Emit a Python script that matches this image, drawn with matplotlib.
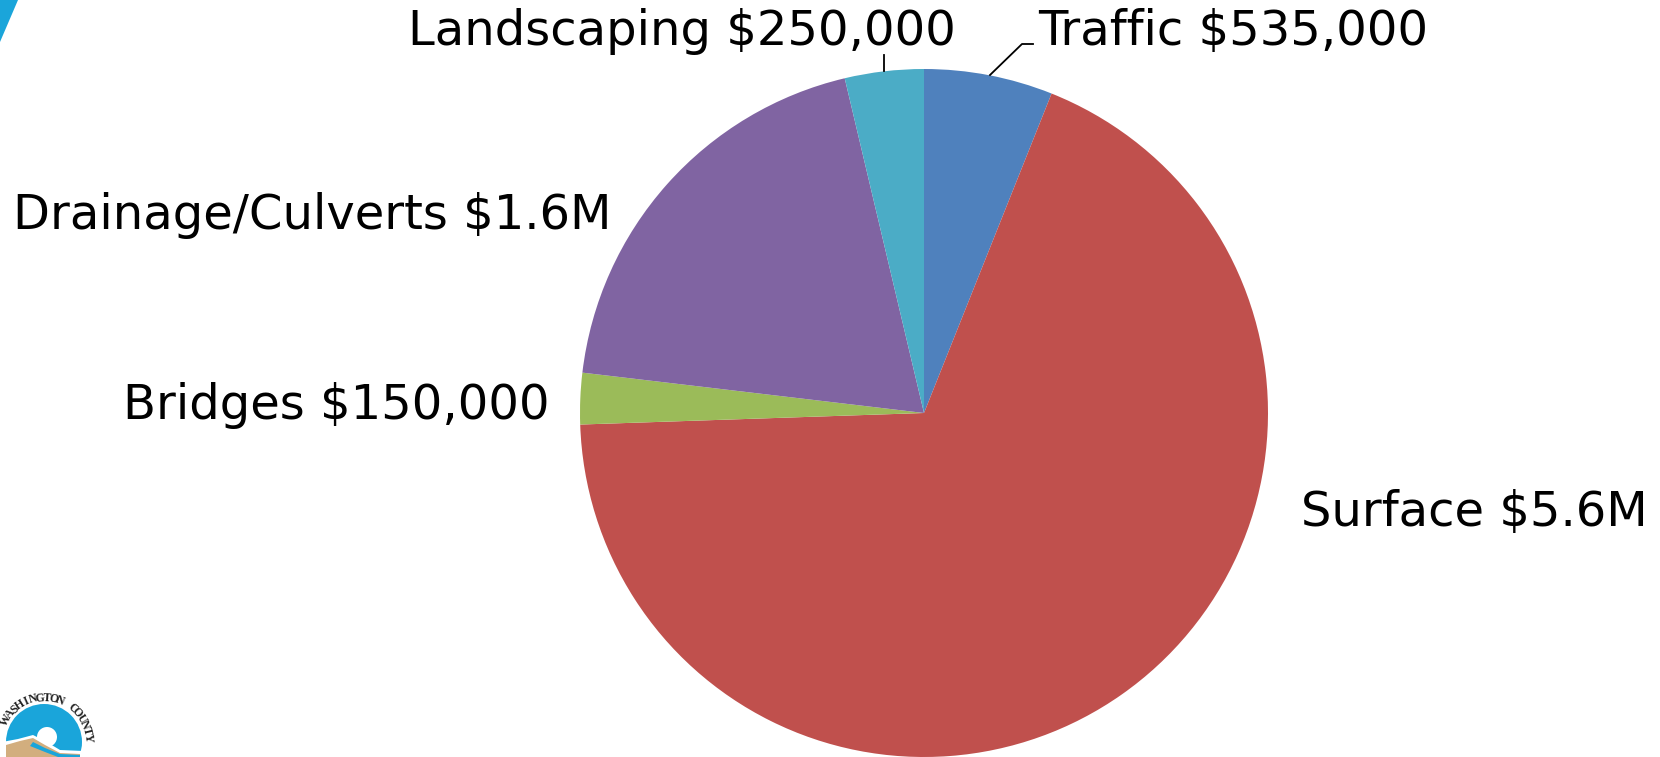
import matplotlib
matplotlib.use('Agg')
import matplotlib.pyplot as plt
from matplotlib.patches import Polygon, Circle
import numpy as np

W, H = 1660, 757

# slices (angles), labels as printed on it
categories = ['Traffic', 'Surface', 'Bridges', 'Drainage/Culverts', 'Landscaping']
slice_values = [495, 5600, 197, 1590, 303]
amounts = ['$535,000', '$5.6M', '$150,000', '$1.6M', '$250,000']
colors = ['#4F81BD', '#C0504D', '#9BBB59', '#8064A2', '#4BACC6']

# left edge and baseline of each label, in pixels from the top left
label_pos = [(1038, 45), (1301, 526), (123, 419), (13, 229), (408, 45)]

logo_text = 'WASHINGTON COUNTY'


def flip(y):
    return H - y


fig = plt.figure(figsize=(W / 100, H / 100), dpi=100, facecolor='white')
ax = fig.add_axes([0, 0, 1, 1])

ax.pie(slice_values, colors=colors, startangle=90, counterclock=False,
       center=(924, flip(413)), radius=344, frame=True,
       wedgeprops={'edgecolor': 'none', 'linewidth': 0})

ax.set_xlim(0, W)
ax.set_ylim(0, H)
ax.set_aspect('equal')
ax.axis('off')

for name, amount, (x, y) in zip(categories, amounts, label_pos):
    ax.text(x, flip(y), name + ' ' + amount, fontsize=34.6, color='black',
            family='DejaVu Sans', ha='left', va='baseline')

# leader lines
ax.plot([990, 1022, 1033], [flip(75), flip(44), flip(44)], color='black', lw=1.3)
ax.plot([884, 884], [flip(71), flip(55)], color='black', lw=1.3)

# corner of the slide decoration
ax.add_patch(Polygon([(0, flip(0)), (18, flip(0)), (0, flip(42))], color='#1AA5DA', lw=0))

# county logo
cx, cy = 44, flip(742)
ax.add_patch(Circle((cx, cy), 38, color='#1AA5DA', lw=0))
ax.add_patch(Circle((47, flip(737)), 10, color='white', lw=0))
ax.add_patch(Polygon([(2, flip(742)), (18, flip(739)), (33, flip(735)), (45, flip(741)),
                      (60, flip(750)), (84, flip(751)), (84, flip(757)), (2, flip(757))],
                     color='white', lw=0))
ax.add_patch(Polygon([(6, flip(745)), (20, flip(741)), (33, flip(738)), (45, flip(745)),
                      (60, flip(753)), (80, flip(754)), (80, flip(757)), (6, flip(757))],
                     color='#D2AE7E', lw=0))
ax.add_patch(Polygon([(33, flip(742)), (45, flip(748)), (60, flip(754)), (80, flip(755)),
                      (80, flip(757)), (58, flip(757)), (45, flip(752)), (30, flip(746))],
                     color='#1AA5DA', lw=0))

angles = np.linspace(150, 5, len(logo_text))
for ch, a in zip(logo_text, angles):
    r = 41
    x = cx + r * np.cos(np.radians(a))
    y = cy + r * np.sin(np.radians(a))
    ax.text(x, y, ch, fontsize=8.5, family='Liberation Serif', weight='bold', color='#222222',
            rotation=a - 90, rotation_mode='anchor', ha='center', va='baseline', clip_on=True)

fig.savefig('out.png', dpi=100, facecolor='white')
